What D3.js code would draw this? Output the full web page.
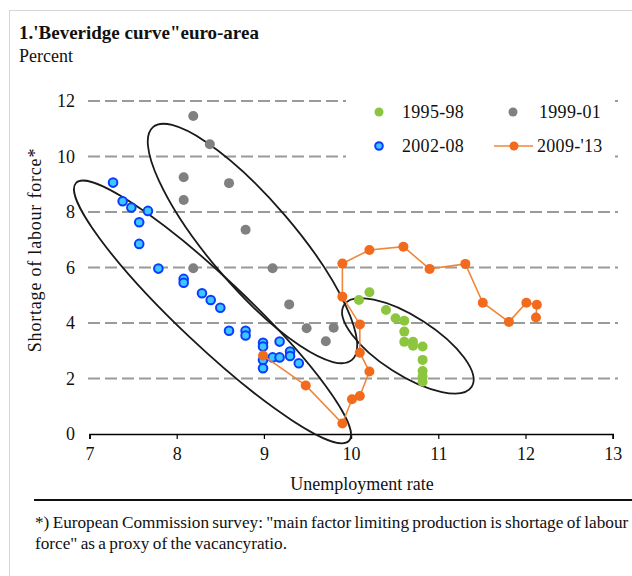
<!DOCTYPE html>
<html>
<head>
<meta charset="utf-8">
<script src="https://cdn.jsdelivr.net/npm/d3@7"></script>
<style>
  html, body { margin: 0; padding: 0; background: #fff; }
</style>
</head>
<body>
<div id="chart"></div>
<script>
(function () {
  // ================================================
  // 1. DATA  ([unemployment rate, shortage of labour force])
  // ================================================
  const s9598 = [[10.09, 4.83], [10.21, 5.11], [10.40, 4.47], [10.51, 4.17], [10.61, 4.08],
    [10.61, 3.69], [10.61, 3.32], [10.71, 3.32], [10.71, 3.18], [10.82, 3.15],
    [10.82, 2.67], [10.82, 2.27], [10.82, 2.07], [10.82, 1.88]];

  const s9901 = [[8.19, 11.46], [8.38, 10.44], [8.08, 9.25], [8.60, 9.04], [8.08, 8.43],
    [8.79, 7.36], [8.19, 5.97], [9.10, 5.97], [9.29, 4.67], [9.49, 3.81],
    [9.80, 3.83], [9.71, 3.34]];

  const s0208 = [[7.27, 9.06], [7.38, 8.39], [7.48, 8.16], [7.67, 8.04], [7.57, 7.63],
    [7.57, 6.85], [7.79, 5.96], [8.08, 5.59], [8.08, 5.45], [8.29, 5.07],
    [8.39, 4.83], [8.50, 4.55], [8.60, 3.72], [8.79, 3.72], [8.79, 3.55],
    [8.99, 3.29], [8.99, 3.15], [9.18, 3.33], [9.10, 2.76], [9.18, 2.76],
    [9.30, 2.97], [9.30, 2.81], [8.99, 2.67], [8.99, 2.37], [9.40, 2.55]];

  const s0913 = [[8.99, 2.83], [9.48, 1.75], [9.90, 0.38], [10.01, 1.25], [10.10, 1.37],
    [10.21, 2.25], [10.10, 2.93], [10.10, 3.95], [9.90, 4.95], [9.90, 6.14],
    [10.21, 6.63], [10.60, 6.75], [10.90, 5.95], [11.31, 6.13], [11.51, 4.73],
    [11.81, 4.04], [12.01, 4.73], [12.13, 4.66], [12.12, 4.20]];

  const seriesNames = ["1995-98", "1999-01", "2002-08", "2009-'13"];
  const xTicks = [7, 8, 9, 10, 11, 12, 13];
  const yTicks = [0, 2, 4, 6, 8, 10, 12];

  // ellipses drawn round each period: the two tips of the long axis in data units
  const ellipseTips = [
    [[6.845, 9.045], [9.976, -0.25]],
    [[7.728, 11.06], [10.01, 2.67]],
    [[9.919, 4.65], [11.383, 1.70]]
  ];
  const ellipseHalfWidth = [34, 43, 29];

  // ================================================
  // 2. LAYOUT
  // ================================================
  const W = 632, H = 576;
  const FONT = "'Liberation Serif', 'Times New Roman', serif";
  const x = d3.scaleLinear().domain([7, 13]).range([89.5, 612.7]);
  const y = d3.scaleLinear().domain([0, 12]).range([434, 101]);

  const svg = d3.select("#chart").append("svg")
    .attr("width", W).attr("height", H);

  function label(sel, size) {
    return sel.style("font-family", FONT).style("font-size", size + "px").attr("fill", "#111");
  }

  // light frame
  svg.append("rect")
    .attr("x", 9.5).attr("y", 10.5)
    .attr("width", 700).attr("height", 700)
    .attr("fill", "none").attr("stroke", "#d6d6d6").attr("stroke-width", 1);

  // ================================================
  // 3. TITLES
  // ================================================
  svg.append("text")
    .attr("x", 19).attr("y", 39)
    .call(label, 19).style("font-weight", "bold")
    .text("1.'Beveridge curve\"euro-area");

  svg.append("text")
    .attr("x", 19).attr("y", 62)
    .call(label, 18)
    .text("Percent");

  // ================================================
  // 4. GRID + AXES
  // ================================================
  svg.append("g").selectAll("line")
    .data(yTicks.filter(d => d > 0))
    .enter().append("line")
    .attr("x1", 88).attr("x2", 618)
    .attr("y1", d => y(d)).attr("y2", d => y(d))
    .attr("stroke", "#9a9a9a").attr("stroke-width", 2)
    .attr("stroke-dasharray", "12,5");

  svg.append("g").selectAll("text")
    .data(yTicks)
    .enter().append("text")
    .attr("x", 75).attr("y", d => y(d) + 6)
    .attr("text-anchor", "end")
    .call(label, 18)
    .text(d => d);

  const xAxis = svg.append("g")
    .attr("transform", `translate(0,${y(0)})`)
    .call(d3.axisBottom(x).tickValues(xTicks).tickFormat(d3.format("d"))
      .tickSize(5).tickPadding(8));
  xAxis.select(".domain").attr("stroke", "#000").attr("stroke-width", 1.6);
  xAxis.selectAll(".tick line").attr("stroke", "#000").attr("stroke-width", 1.2);
  xAxis.selectAll(".tick text").call(label, 18);

  svg.append("text")
    .attr("x", 362).attr("y", 490)
    .attr("text-anchor", "middle")
    .call(label, 18)
    .text("Unemployment rate");

  svg.append("text")
    .attr("transform", "translate(41,250) rotate(-90)")
    .attr("text-anchor", "middle")
    .call(label, 18).style("letter-spacing", "0.8px")
    .text("Shortage of labour force*");

  // ================================================
  // 5. ELLIPSES
  // ================================================
  ellipseTips.forEach((t, i) => {
    const x1 = x(t[0][0]), y1 = y(t[0][1]);
    const x2 = x(t[1][0]), y2 = y(t[1][1]);
    const cx = (x1 + x2) / 2, cy = (y1 + y2) / 2;
    const rx = Math.hypot(x2 - x1, y2 - y1) / 2;
    const ang = Math.atan2(y2 - y1, x2 - x1) * 180 / Math.PI;
    svg.append("ellipse")
      .attr("cx", cx).attr("cy", cy)
      .attr("rx", rx).attr("ry", ellipseHalfWidth[i])
      .attr("transform", `rotate(${ang},${cx},${cy})`)
      .attr("fill", "none").attr("stroke", "#1a1a1a").attr("stroke-width", 1.8);
  });

  // ================================================
  // 6. SERIES
  // ================================================
  const green = "#8cc63f", grey = "#808080", orange = "#f26a1c", orangeLine = "#f0873a";
  const blueFill = "#3cc8ff", blueEdge = "#0a3cff";

  svg.append("g").selectAll("circle")
    .data(s0208).enter().append("circle")
    .attr("cx", d => x(d[0])).attr("cy", d => y(d[1])).attr("r", 4.3)
    .attr("fill", blueFill).attr("stroke", blueEdge).attr("stroke-width", 2);

  svg.append("g").selectAll("circle")
    .data(s9901).enter().append("circle")
    .attr("cx", d => x(d[0])).attr("cy", d => y(d[1])).attr("r", 5)
    .attr("fill", grey);

  svg.append("g").selectAll("circle")
    .data(s9598).enter().append("circle")
    .attr("cx", d => x(d[0])).attr("cy", d => y(d[1])).attr("r", 5)
    .attr("fill", green);

  svg.append("path")
    .datum(s0913)
    .attr("d", d3.line().x(d => x(d[0])).y(d => y(d[1])))
    .attr("fill", "none").attr("stroke", orangeLine).attr("stroke-width", 1.6);

  svg.append("g").selectAll("circle")
    .data(s0913).enter().append("circle")
    .attr("cx", d => x(d[0])).attr("cy", d => y(d[1])).attr("r", 5)
    .attr("fill", orange);

  // ================================================
  // 7. LEGEND
  // ================================================
  const legend = svg.append("g");
  legend.append("rect")
    .attr("x", 346).attr("y", 90).attr("width", 266).attr("height", 75)
    .attr("fill", "#fff");

  const row1 = 112, row2 = 146;
  legend.append("circle").attr("cx", 379).attr("cy", row1).attr("r", 4.5).attr("fill", green);
  legend.append("circle").attr("cx", 513).attr("cy", row1).attr("r", 4.5).attr("fill", grey);
  legend.append("circle").attr("cx", 379).attr("cy", row2).attr("r", 3.8)
    .attr("fill", blueFill).attr("stroke", blueEdge).attr("stroke-width", 2);
  legend.append("line").attr("x1", 494).attr("x2", 533).attr("y1", row2).attr("y2", row2)
    .attr("stroke", orangeLine).attr("stroke-width", 1.6);
  legend.append("circle").attr("cx", 514).attr("cy", row2).attr("r", 4.5).attr("fill", orange);

  const labelPos = [[402, row1], [539, row1], [402, row2], [537, row2]];
  legend.selectAll("text")
    .data(seriesNames).enter().append("text")
    .attr("x", (d, i) => labelPos[i][0]).attr("y", (d, i) => labelPos[i][1] + 6)
    .call(label, 18).style("letter-spacing", "0.3px")
    .text(d => d);

  // ================================================
  // 8. FOOTNOTE
  // ================================================
  svg.append("line")
    .attr("x1", 34).attr("x2", 632).attr("y1", 500).attr("y2", 500)
    .attr("stroke", "#111").attr("stroke-width", 2);

  const note1 = svg.append("text")
    .attr("x", 35).attr("y", 528)
    .call(label, 17.5).style("word-spacing", "-1px")
    .text("*) European Commission survey: \"main factor limiting production is shortage of labour");
  // keep the first line inside the frame
  const w1 = note1.node().getComputedTextLength();
  const noteSize = w1 > 594 ? 17.5 * 594 / w1 : 17.5;
  note1.style("font-size", noteSize + "px");

  svg.append("text")
    .attr("x", 35).attr("y", 549)
    .call(label, noteSize).style("word-spacing", "-1px")
    .text("force\" as a proxy of the vacancyratio.");
})();
</script>
</body>
</html>
